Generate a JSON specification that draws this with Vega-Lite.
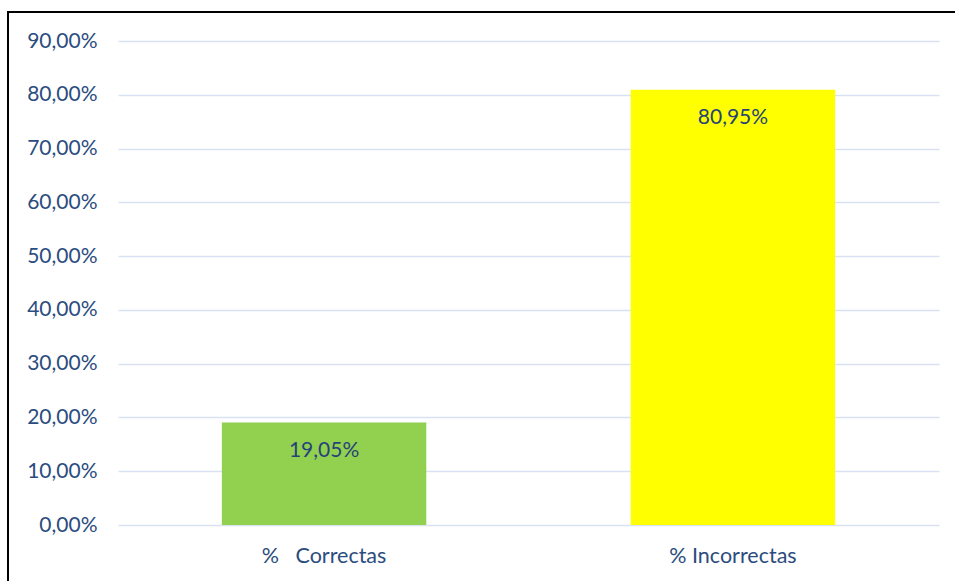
{
  "$schema": "https://vega.github.io/schema/vega-lite/v6.json",
  "autosize": {"type": "none"},
  "padding": {"left": 8, "top": 12, "right": -5, "bottom": -11},
  "width": 952,
  "height": 580,
  "background": "#ffffff",
  "config": {
    "locale": {"number": {"decimal": ",", "thousands": ".", "grouping": [3], "currency": ["", " €"]}},
    "view": {"stroke": "#000000", "strokeWidth": 2},
    "font": "Lato"
  },
  "data": {
    "values": [
      {"categoria": "%   Correctas", "valor": 0.1905},
      {"categoria": "% Incorrectas", "valor": 0.8095}
    ]
  },
  "encoding": {
    "x": {
      "field": "categoria",
      "type": "nominal",
      "sort": null,
      "scale": {"range": [110, 931], "paddingInner": 0.5, "paddingOuter": 0.254},
      "axis": {
        "title": null,
        "domain": false,
        "ticks": false,
        "grid": false,
        "labelAngle": 0,
        "offset": -67,
        "labelPadding": 20,
        "labelExpr": "replace(datum.label, regexp(' ', 'g'), '\u00a0')",
        "labelFont": "Lato",
        "labelFontSize": 21.5,
        "labelColor": "#2B4C7E"
      }
    },
    "y": {
      "field": "valor",
      "type": "quantitative",
      "scale": {"domain": [0, 0.9], "range": [513, 29], "nice": false, "zero": true},
      "axis": {
        "title": null,
        "domain": false,
        "ticks": false,
        "values": [0, 0.1, 0.2, 0.3, 0.4, 0.5, 0.6, 0.7, 0.8, 0.9],
        "format": ".2%",
        "offset": -110,
        "labelPadding": 21,
        "labelFont": "Lato",
        "labelFontSize": 21,
        "labelColor": "#2B4C7E",
        "gridColor": "#D9E2F3",
        "gridWidth": 1.5
      }
    }
  },
  "layer": [
    {
      "mark": {"type": "bar"},
      "encoding": {
        "color": {
          "field": "categoria",
          "type": "nominal",
          "scale": {"domain": ["%   Correctas", "% Incorrectas"], "range": ["#92D050", "#FFFF00"]},
          "legend": null
        }
      }
    },
    {
      "mark": {"type": "text", "baseline": "middle", "dy": 28, "font": "Lato", "fontSize": 21, "color": "#264478"},
      "encoding": {
        "text": {"field": "valor", "type": "quantitative", "format": ".2%"}
      }
    }
  ]
}
